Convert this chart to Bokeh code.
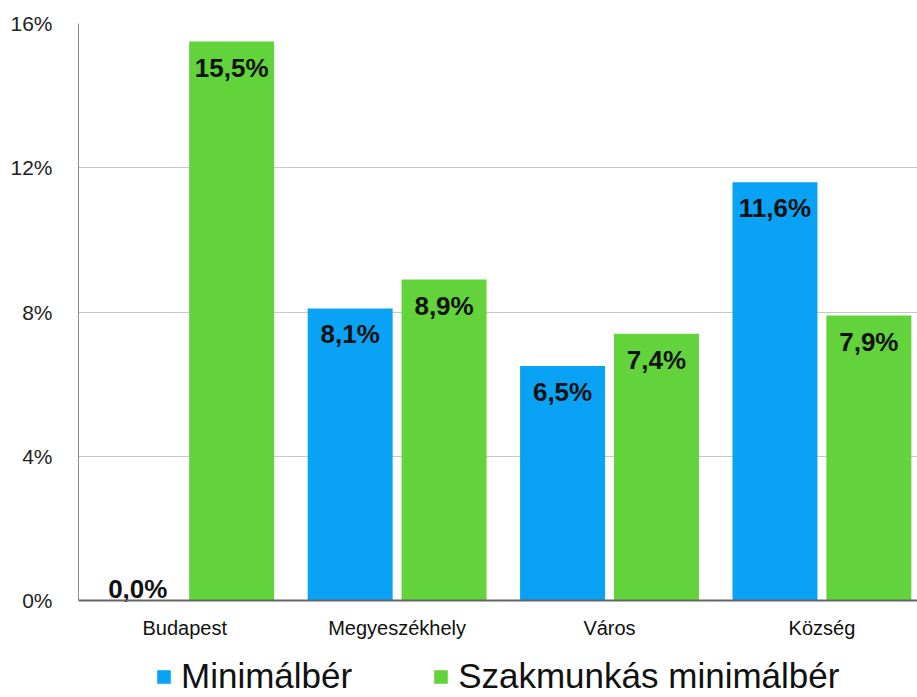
from bokeh.plotting import figure
from bokeh.models import Range1d, FixedTicker, ColumnDataSource, Legend, LegendItem
from bokeh.embed import file_html
from bokeh.resources import INLINE
from bokeh.core.properties import value

categories = ["Budapest", "Megyeszékhely", "Város", "Község"]
minimalber = [0.0, 8.1, 6.5, 11.6]
szakmunkas = [15.5, 8.9, 7.4, 7.9]
series_names = ["Minimálbér", "Szakmunkás minimálbér"]
y_ticks = [0, 4, 8, 12, 16]
y_tick_labels = ["0%", "4%", "8%", "12%", "16%"]

BLUE = "#0AA2F5"
GREEN = "#62D33A"
FONT = "Liberation Sans"

centers = [i + 0.5 for i in range(len(categories))]
off = 0.221
bw = 0.4

def fmt(v):
    return f"{v:.1f}".replace(".", ",") + "%"

# frame extends below zero so the category labels and legend sit inside it
Y_MAX = 16
Y_MIN = -97 * 16 / 577

p = figure(frame_width=839, frame_height=674, output_backend="svg", toolbar_location=None,
           x_range=Range1d(0, 3.95), y_range=Range1d(Y_MIN, Y_MAX),
           min_border_left=78, min_border_right=0, min_border_top=23, min_border_bottom=0)
p.outline_line_color = None
p.background_fill_color = "white"
p.border_fill_color = "white"

src_a = ColumnDataSource(dict(x=[c - off for c in centers], top=minimalber))
src_b = ColumnDataSource(dict(x=[c + off for c in centers], top=szakmunkas))

ra = p.vbar(x="x", top="top", bottom=0, width=bw, source=src_a, fill_color=BLUE, line_color=None)
rb = p.vbar(x="x", top="top", bottom=0, width=bw, source=src_b, fill_color=GREEN, line_color=None)

for vals, xs in ((minimalber, [c - off for c in centers]), (szakmunkas, [c + off for c in centers])):
    pos = [(x, v, fmt(v)) for x, v in zip(xs, vals) if v > 0]
    zero = [(x, v, fmt(v)) for x, v in zip(xs, vals) if v <= 0]
    if pos:
        p.text(x=[a[0] for a in pos], y=[a[1] for a in pos], text=[a[2] for a in pos],
               text_align="center", text_baseline="top", y_offset=11,
               text_font=value(FONT), text_font_style="bold", text_font_size="26px", text_color="#111111")
    if zero:
        p.text(x=[a[0] for a in zero], y=[a[1] for a in zero], text=[a[2] for a in zero],
               text_align="center", text_baseline="alphabetic", y_offset=-12,
               text_font=value(FONT), text_font_style="bold", text_font_size="26px", text_color="#111111")

p.yaxis.ticker = FixedTicker(ticks=y_ticks)
p.yaxis.bounds = (0, Y_MAX)
p.yaxis.major_label_overrides = {t: l for t, l in zip(y_ticks, y_tick_labels)}
p.yaxis.major_tick_line_color = None
p.yaxis.minor_tick_line_color = None
p.yaxis.axis_line_color = "#8a8a8a"
p.yaxis.major_label_text_font = FONT
p.yaxis.major_label_text_font_size = "21px"
p.yaxis.major_label_text_color = "#222222"
p.yaxis.major_label_standoff = 20

p.xaxis.fixed_location = 0
p.xaxis.ticker = FixedTicker(ticks=centers)
p.xaxis.major_label_overrides = {c: n for c, n in zip(centers, categories)}
p.xaxis.major_tick_line_color = None
p.xaxis.minor_tick_line_color = None
p.xaxis.axis_line_color = "#666666"
p.xaxis.axis_line_width = 2
p.xaxis.major_label_text_font = FONT
p.xaxis.major_label_text_font_size = "20px"
p.xaxis.major_label_text_color = "#111111"
p.xaxis.major_label_standoff = 10

p.xgrid.grid_line_color = None
p.ygrid.ticker = FixedTicker(ticks=y_ticks)
p.ygrid.grid_line_color = "#c8c8c8"
p.ygrid.grid_line_width = 1

legend = Legend(items=[LegendItem(label=series_names[0], renderers=[ra]),
                       LegendItem(label=series_names[1], renderers=[rb])],
                orientation="horizontal", location=(77, 1),
                label_text_font=FONT, label_text_font_size="35px", label_text_color="#111111",
                glyph_width=17, glyph_height=17, label_standoff=9, spacing=80,
                border_line_color=None, background_fill_alpha=0, margin=0, padding=2)
p.add_layout(legend, "center")

open("out.html", "w").write(file_html(p, INLINE))
